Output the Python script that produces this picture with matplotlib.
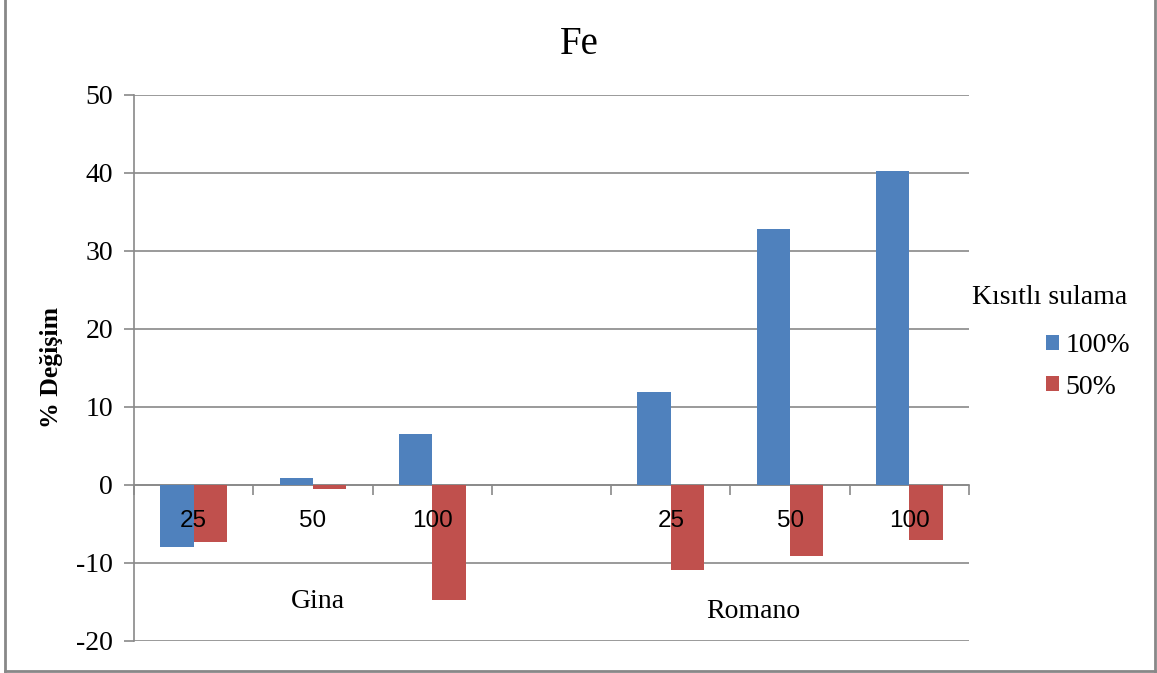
import matplotlib
matplotlib.use('Agg')
import matplotlib.pyplot as plt
import matplotlib.patches as mpatches
from matplotlib.lines import Line2D
import numpy as np

plt.rcParams['axes.unicode_minus'] = False

# ---- data ----
doses = ['25', '50', '100', '', '25', '50', '100']
cultivars = ['Gina', 'Romano']
cultivar_pos = [1.04, 4.69]          # label centres, in category units
irr_100 = [-8.0, 0.9, 6.5, np.nan, 11.9, 32.8, 40.3]
irr_50 = [-7.3, -0.5, -14.7, np.nan, -10.9, -9.1, -7.0]
series_labels = ['100%', '50%']

BLUE = '#4F81BD'
RED = '#C0504D'
GRID = '#898989'
SERIF = 'Liberation Serif'
SANS = 'Liberation Sans'

W, H = 1157, 673
fig = plt.figure(figsize=(W / 100, H / 100), dpi=100)
ax = fig.add_axes([134 / W, 32 / H, (969 - 134) / W, (641 - 95) / H])

x = np.arange(len(doses))
bw = 0.28
ax.bar(x - bw / 2, irr_100, width=bw, color=BLUE, zorder=3)
ax.bar(x + bw / 2, irr_50, width=bw, color=RED, zorder=3)

ax.set_xlim(-0.5, len(doses) - 0.5)
ax.set_ylim(-20, 50)
ax.set_yticks(np.arange(-20, 51, 10))
ax.yaxis.grid(True, color=GRID, lw=1.2, zorder=0)
ax.set_axisbelow(True)

# spines: left axis + category axis at zero
for s in ['top', 'right']:
    ax.spines[s].set_visible(False)
ax.spines['left'].set_color(GRID)
ax.spines['left'].set_linewidth(1.2)
ax.spines['bottom'].set_position(('data', 0))
ax.spines['bottom'].set_color(GRID)
ax.spines['bottom'].set_linewidth(1.2)
ax.spines['bottom'].set_zorder(2)

ax.set_xticks(np.arange(-0.5, len(doses), 1.0))
ax.set_xticklabels([])
ax.tick_params(axis='x', direction='out', length=7, width=1.2, color=GRID)
ax.tick_params(axis='y', direction='out', length=7, width=1.2, color=GRID,
               labelsize=20, pad=8)
for lab in ax.get_yticklabels():
    lab.set_family(SERIF)

# dose labels sit just under the zero line
for xi, d in zip(x, doses):
    ax.text(xi, -4.6, d, ha='center', va='center', fontsize=17.5,
            family=SANS, zorder=5)

for name, xp, yp in zip(cultivars, cultivar_pos, [-15.0, -16.2]):
    ax.text(xp, yp, name, ha='center', va='center', fontsize=20,
            family=SERIF, zorder=5)

ax.set_ylabel('% Değişim', fontsize=18.5, fontweight='bold', family=SERIF)
ax.yaxis.set_label_coords(-0.085, 0.5)

fig.text(579 / W, 1 - 45 / H, 'Fe', ha='center', va='center',
         fontsize=28, family=SERIF)

# legend
fig.text(972 / W, 1 - 297 / H, 'Kısıtlı sulama', ha='left', va='center',
         fontsize=20, family=SERIF)
handles = [mpatches.Patch(facecolor=BLUE, edgecolor='none', label=series_labels[0]),
           mpatches.Patch(facecolor=RED, edgecolor='none', label=series_labels[1])]
fig.legend(handles=handles, loc='upper left',
           bbox_to_anchor=(1046 / W, 1 - 333 / H), frameon=False,
           prop={'family': SERIF, 'size': 20}, handlelength=0.45,
           handleheight=0.45, handletextpad=0.25, labelspacing=0.6,
           borderpad=0, borderaxespad=0)

# outer chart frame
frame_kw = dict(color='#888888', lw=2.0, transform=fig.transFigure)
fig.add_artist(Line2D([4.5 / W, 4.5 / W], [2 / H, 1], **frame_kw))
fig.add_artist(Line2D([1155 / W, 1155 / W], [2 / H, 1], **frame_kw))
fig.add_artist(Line2D([4.5 / W, 1155 / W], [2.5 / H, 2.5 / H], **frame_kw))

fig.savefig('out.png', dpi=100, facecolor='white')
